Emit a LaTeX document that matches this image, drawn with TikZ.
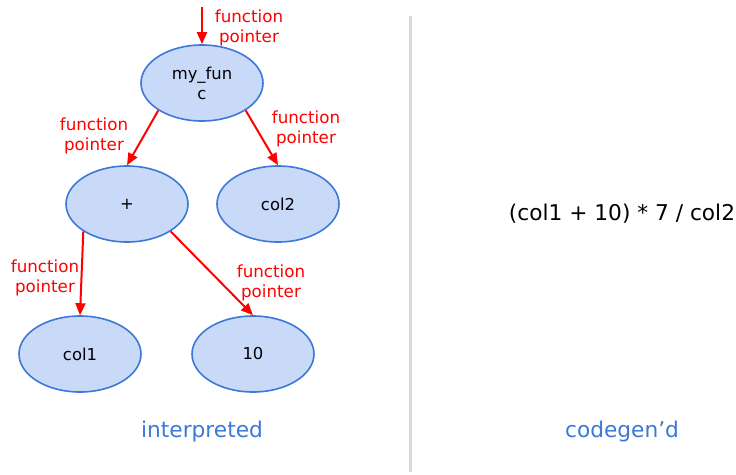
\documentclass[tikz,border=0pt]{standalone}
\usepackage{fontspec}
\setmainfont{DejaVu Sans}
\usetikzlibrary{shapes.geometric,arrows.meta}
\definecolor{nodefill}{HTML}{C9DAF8}
\definecolor{nodeline}{HTML}{3C78D8}
\definecolor{capblue}{HTML}{3C78D8}
\definecolor{divgray}{HTML}{D9D9D9}
\begin{document}
\begin{tikzpicture}[x=1pt,y=-1pt,
  expr/.style={ellipse, draw=nodeline, fill=nodefill, line width=1.6pt,
    minimum width=122pt, minimum height=76pt, inner sep=0pt,
    align=center, font=\fontsize{16.4}{20}\selectfont},
  fp/.style={text=red, align=center, font=\fontsize{16.7}{20}\selectfont},
  ptr/.style={draw=red, line width=2pt, -{Triangle[length=12pt,width=10pt]}},
  caption/.style={text=capblue, font=\fontsize{21.7}{25}\selectfont}]
\useasboundingbox (0,0) rectangle (736,474);

% tree of the interpreted expression
\node[expr] (root) at (202,83) {my\_fun\\c};
\node[expr] (plus) at (127,204) {+};
\node[expr] (col2) at (278,204) {col2};
\node[expr] (col1) at (80,354) {col1};
\node[expr] (ten)  at (253,354) {10};

\coordinate (entry) at (202,7);
\draw[ptr] (entry) -- (root.north);
\draw[ptr] (root.south west) -- (plus.north);
\draw[ptr] (root.south east) -- (col2.north);
\draw[ptr] (plus.south west) -- (col1.north);
\draw[ptr] (plus.south east) -- (ten.north);

\node[fp] (l0) at (249,28) {function\\pointer};
\node[fp] (l1) at (94,136) {function\\pointer};
\node[fp] (l2) at (306,129) {function\\pointer};
\node[fp] (l3) at (45,278) {function\\pointer};
\node[fp] (l4) at (271,283) {function\\pointer};

% divider between the two halves
\coordinate (divtop) at (410,16);
\coordinate (divbot) at (410,472);
\draw[divgray, line width=3pt] (divtop) -- (divbot);

% generated code
\node[font=\fontsize{21.7}{25}\selectfont] (code) at (622,214) {(col1 + 10) * 7 / col2};

\node[caption] (capl) at (202,432) {interpreted};
\node[caption] (capr) at (622,432) {codegen’d};
\end{tikzpicture}
\end{document}
